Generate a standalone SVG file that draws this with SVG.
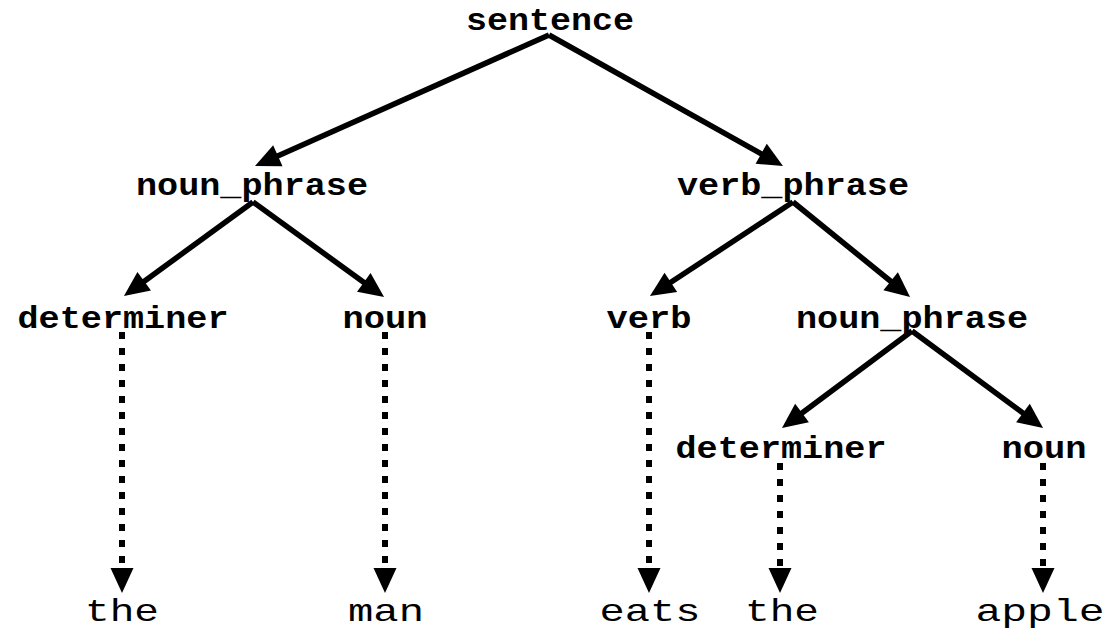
<svg xmlns="http://www.w3.org/2000/svg" width="1111" height="635" viewBox="0 0 1111 635">
<style>
.lbl{font-family:"Liberation Mono","Courier New",monospace;font-weight:bold;font-size:31px;fill:#000;text-anchor:middle}
.word{font-family:"Liberation Mono","Courier New",monospace;font-size:32px;fill:#000;text-anchor:middle}
.e{stroke:#000;stroke-width:5.5;fill:none;marker-end:url(#ah)}
.d{stroke:#000;stroke-width:6;fill:none;stroke-dasharray:7 9;marker-end:url(#ah)}
</style>
<defs>
<marker id="ah" markerUnits="userSpaceOnUse" markerWidth="27" markerHeight="24" refX="10" refY="11.5" orient="auto" overflow="visible">
<path d="M0,0 L25,11.5 L0,23 z" fill="#000"/>
</marker>
</defs>
<rect width="1111" height="635" fill="#fff"/>
<g id="connectors">
<line class="e" x1="549" y1="35" x2="268.7" y2="159.9"/>
<line class="e" x1="549" y1="35" x2="769.9" y2="158.7"/>
<line class="e" x1="253" y1="202" x2="136.1" y2="287.2"/>
<line class="e" x1="253" y1="202" x2="371.9" y2="288.2"/>
<line class="e" x1="793" y1="202" x2="662.5" y2="287.8"/>
<line class="e" x1="793" y1="202" x2="898.4" y2="287.5"/>
<line class="e" x1="912" y1="331" x2="794" y2="419"/>
<line class="e" x1="912" y1="331" x2="1031" y2="419"/>
<line class="d" x1="122" y1="332" x2="122" y2="578"/>
<line class="d" x1="385" y1="332" x2="385" y2="578"/>
<line class="d" x1="649" y1="332" x2="649" y2="578"/>
<line class="d" x1="780" y1="463" x2="780" y2="578"/>
<line class="d" x1="1043" y1="463" x2="1043" y2="578"/>
</g>
<g id="n_sentence"><text class="lbl" x="550" y="30" textLength="168" lengthAdjust="spacingAndGlyphs">sentence</text></g>
<g id="n_np1"><text class="lbl" x="252" y="195" textLength="232" lengthAdjust="spacingAndGlyphs">noun_phrase</text></g>
<g id="n_vp"><text class="lbl" x="793" y="195" textLength="232" lengthAdjust="spacingAndGlyphs">verb_phrase</text></g>
<g id="n_det1"><text class="lbl" x="123" y="328" textLength="211" lengthAdjust="spacingAndGlyphs">determiner</text></g>
<g id="n_noun1"><text class="lbl" x="385" y="328" textLength="85" lengthAdjust="spacingAndGlyphs">noun</text></g>
<g id="n_verb"><text class="lbl" x="649" y="328" textLength="85" lengthAdjust="spacingAndGlyphs">verb</text></g>
<g id="n_np2"><text class="lbl" x="912" y="328" textLength="232" lengthAdjust="spacingAndGlyphs">noun_phrase</text></g>
<g id="n_det2"><text class="lbl" x="781" y="458" textLength="211" lengthAdjust="spacingAndGlyphs">determiner</text></g>
<g id="n_noun2"><text class="lbl" x="1044" y="458" textLength="85" lengthAdjust="spacingAndGlyphs">noun</text></g>
<g id="w_the1"><text class="word" x="122" y="621" textLength="74" lengthAdjust="spacingAndGlyphs">the</text></g>
<g id="w_man"><text class="word" x="386" y="621" textLength="76" lengthAdjust="spacingAndGlyphs">man</text></g>
<g id="w_eats"><text class="word" x="650" y="621" textLength="101" lengthAdjust="spacingAndGlyphs">eats</text></g>
<g id="w_the2"><text class="word" x="782" y="621" textLength="74" lengthAdjust="spacingAndGlyphs">the</text></g>
<g id="w_apple"><text class="word" x="1040" y="621" textLength="129" lengthAdjust="spacingAndGlyphs">apple</text></g>
</svg>
